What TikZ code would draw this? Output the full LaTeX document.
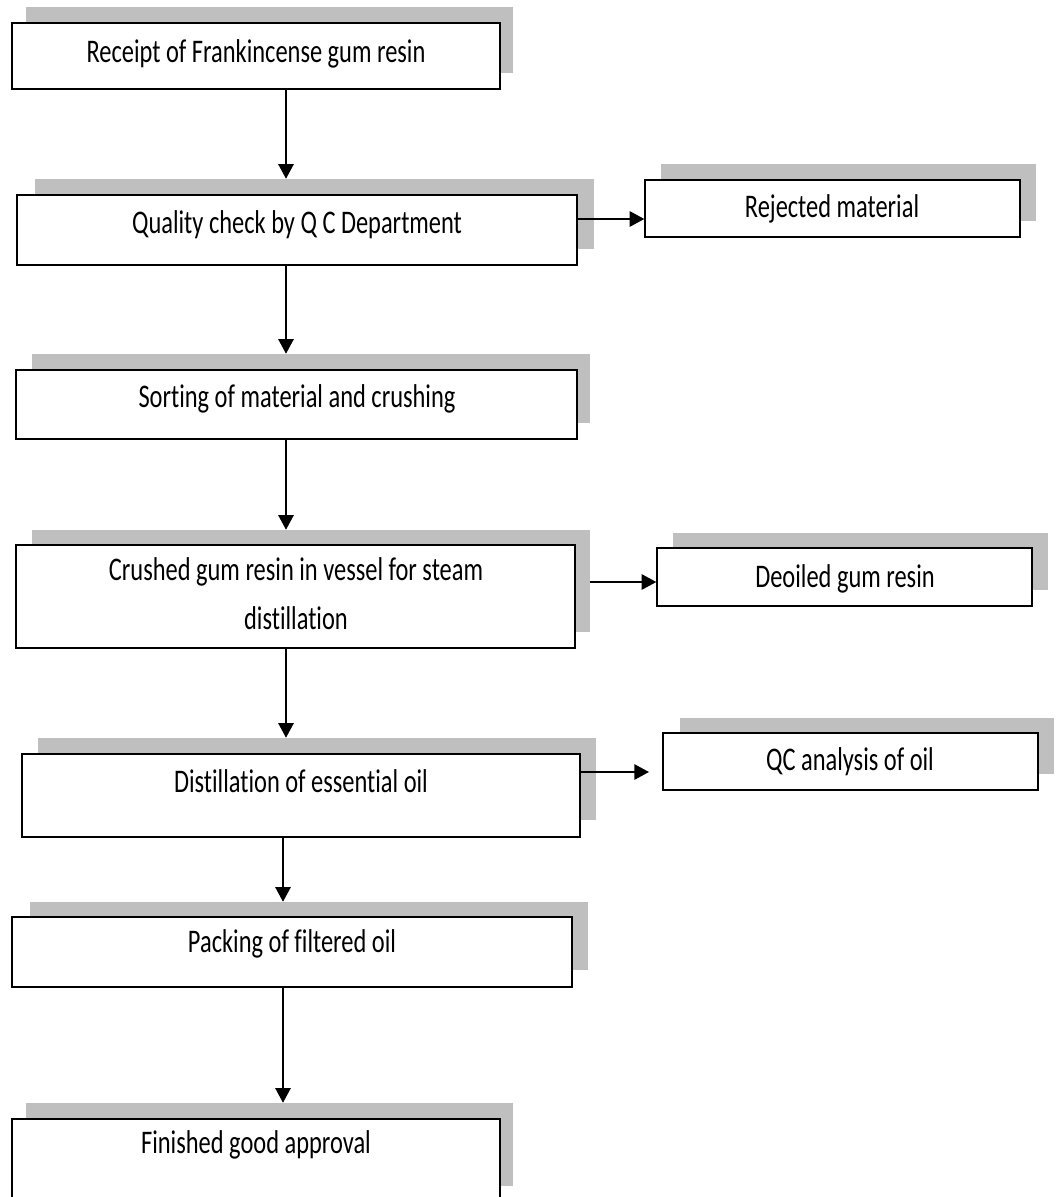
\documentclass[tikz,border=0pt]{standalone}
\usepackage{fontspec}
\setmainfont[FakeStretch=0.74,Ligatures={NoCommon}]{Carlito}
\usetikzlibrary{fit,arrows.meta}
\definecolor{shadowgray}{HTML}{BFBFBF}
\tikzset{
  boxst/.style={draw=black, fill=white, line width=1pt, inner sep=0pt},
  shadowst/.style={fill=shadowgray, draw=none, inner sep=0pt},
  txt/.style={inner sep=0pt, align=center, font=\fontsize{24.75pt}{36.75pt}\selectfont},
  arr/.style={line width=1.4pt, -{Triangle[length=11pt,width=11.5pt]}}
}
\begin{document}
\begin{tikzpicture}[x=0.75pt,y=-0.75pt]
\useasboundingbox (0,0) rectangle (1059,1197);
% shadows
\node[shadowst, fit={(26,7) (513,73)}] (s1) {};
\node[shadowst, fit={(35,179) (594,249)}] (s2) {};
\node[shadowst, fit={(661,164) (1036,221)}] (sr) {};
\node[shadowst, fit={(32,354) (590,423)}] (s3) {};
\node[shadowst, fit={(32,530) (590,632)}] (s4) {};
\node[shadowst, fit={(673,533) (1048,590)}] (sd) {};
\node[shadowst, fit={(38,738) (596,820)}] (s5) {};
\node[shadowst, fit={(680,718) (1054,774)}] (sq) {};
\node[shadowst, fit={(30,902) (588,970)}] (s6) {};
\node[shadowst, fit={(26,1103) (513,1186)}] (s7) {};
% boxes
\node[boxst, fit={(12,23) (500,89)}] (b1) {};
\node[boxst, fit={(17,195) (577,265)}] (b2) {};
\node[boxst, fit={(645,180) (1020,237)}] (r) {};
\node[boxst, fit={(16,370) (577,439)}] (b3) {};
\node[boxst, fit={(16,545) (575,648)}] (b4) {};
\node[boxst, fit={(657,548) (1032,606)}] (d) {};
\node[boxst, fit={(22,754) (580,837)}] (b5) {};
\node[boxst, fit={(663,733) (1038,790)}] (q) {};
\node[boxst, fit={(12,917) (572,987)}] (b6) {};
\node[boxst, fit={(12,1119) (500,1215)}] (b7) {};
% texts
\node[txt] (t1) at (256,54) {Receipt of Frankincense gum resin};
\node[txt] (t2) at (297,225) {Quality check by Q C Department};
\node[txt] (tr) at (832,209) {Rejected material};
\node[txt] (t3) at (297,399) {Sorting of material and crushing};
\node[txt] (t4) at (296,594) {Crushed gum resin in vessel for steam\\distillation};
\node[txt] (td) at (845,579) {Deoiled gum resin};
\node[txt] (t5) at (301,781) {Distillation of essential oil};
\node[txt] (tq) at (850,762) {QC analysis of oil};
\node[txt] (t6) at (292,944) {Packing of filtered oil};
\node[txt] (t7) at (256,1145) {Finished good approval};
% connector helpers
\coordinate (ax) at (286,0);
\coordinate (bx) at (283,0);
\coordinate (h1) at (0,219);
\coordinate (h2) at (0,582);
\coordinate (h3) at (0,772);
% vertical arrows
\draw[arr] (b1.south -| ax) -- (s2.north -| ax);
\draw[arr] (b2.south -| ax) -- (s3.north -| ax);
\draw[arr] (b3.south -| ax) -- (s4.north -| ax);
\draw[arr] (b4.south -| ax) -- (s5.north -| ax);
\draw[arr] (b5.south -| bx) -- (s6.north -| bx);
\draw[arr] (b6.south -| bx) -- (s7.north -| bx);
% horizontal arrows
\draw[arr] (b2.east |- h1) -- (r.west |- h1);
\draw[arr] (s4.east |- h2) -- (d.west |- h2);
\draw[arr, shorten >=10pt] (b5.east |- h3) -- (q.west |- h3);
\end{tikzpicture}
\end{document}
